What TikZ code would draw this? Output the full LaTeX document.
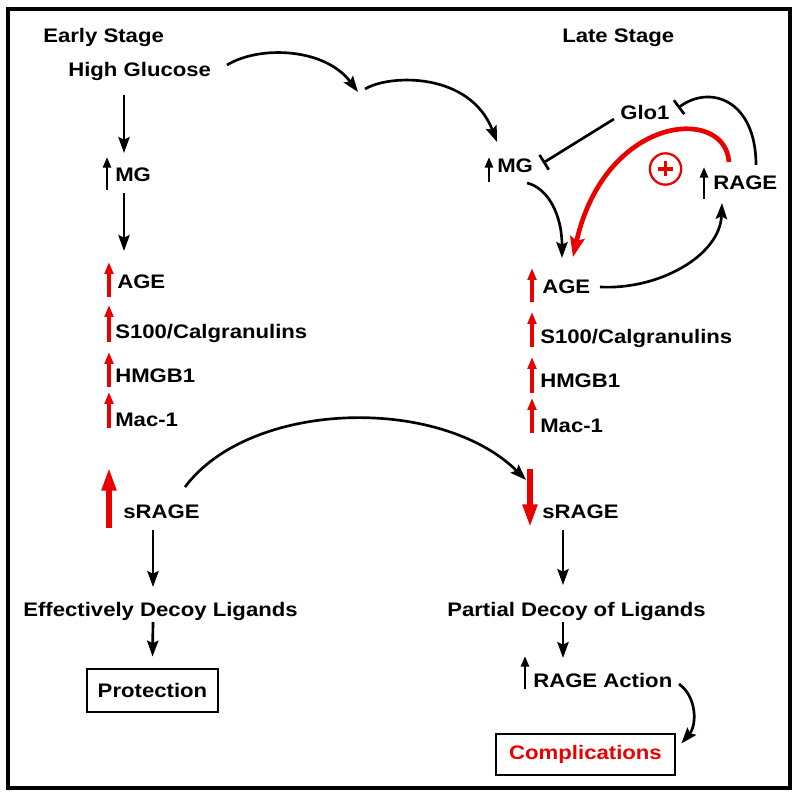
\documentclass[tikz,border=0pt]{standalone}
\usepackage{fontspec}
\setmainfont{Liberation Sans}[FakeStretch=1.13]
\usetikzlibrary{arrows.meta,calc}
\definecolor{myred}{RGB}{235,0,0}
\begin{document}
\begin{tikzpicture}[x=0.75pt,y=-0.75pt,
  lbl/.style={anchor=base west, inner sep=0pt, font=\bfseries\fontsize{14.7}{17}\selectfont},
  arr/.style={line width=2pt, -{Stealth[length=12pt,width=8.5pt,inset=2pt]}},
  inh/.style={line width=2pt, -{Bar[width=13pt,line width=2pt]}},
  upblack/.style={line width=1.9pt, -{Triangle[length=8pt,width=6pt]}},
  upred/.style={myred, line width=2.3pt, -{Triangle[length=9pt,width=6.5pt]}},
  bigred/.style={myred, line width=3.8pt, -{Triangle[length=17pt,width=10.5pt]}},
  outbox/.style={draw, line width=2.1pt, inner sep=0pt, font=\bfseries\fontsize{14.7}{17}\selectfont}]
\useasboundingbox (0,0) rectangle (800,798);
\draw[line width=2.4pt] (8,9) rectangle (790,788);

% left column
\node[lbl] (early) at (43,43) {Early Stage};
\node[lbl] (hg) at (68,77) {High Glucose};
\node[lbl] (mgL) at (115,182) {MG};
\node[lbl] (ageL) at (117,289) {AGE};
\node[lbl] (s100L) at (115,339) {S100/Calgranulins};
\node[lbl] (hmgL) at (115,383) {HMGB1};
\node[lbl] (macL) at (115,427) {Mac-1};
\node[lbl] (sragL) at (123,518) {sRAGE};
\node[lbl] (eff) at (23,616) {Effectively Decoy Ligands};
\node[outbox, minimum width=98.25pt, minimum height=32.25pt] (prot) at (152.5,690.5) {Protection};

% right column
\node[lbl] (late) at (562,43) {Late Stage};
\node[lbl] (mgR) at (497,173) {MG};
\node[lbl] (glo) at (620,120) {Glo1};
\node[lbl] (rage) at (713,190) {RAGE};
\node[lbl] (ageR) at (542,294) {AGE};
\node[lbl] (s100R) at (540,344) {S100/Calgranulins};
\node[lbl] (hmgR) at (540,388) {HMGB1};
\node[lbl] (macR) at (540,433) {Mac-1};
\node[lbl] (sragR) at (542,518) {sRAGE};
\node[lbl] (partial) at (447,616) {Partial Decoy of Ligands};
\node[lbl] (ragea) at (533,687) {RAGE Action};
\node[outbox, minimum width=134.25pt, minimum height=30.75pt, text=myred] (compl) at (585.5,754.5) {Complications};

% plus sign
\node[draw=myred, line width=1.7pt, circle, minimum size=23.5pt, inner sep=0pt] (plus) at (665.5,169) {};
\draw[myred, line width=2.6pt] ($(plus.center)+(-7.5,0)$) -- ($(plus.center)+(7.5,0)$);
\draw[myred, line width=2.6pt] ($(plus.center)+(0,-7.5)$) -- ($(plus.center)+(0,7.5)$);

% indicator arrows (left)
\draw[upblack] ($(mgL.base west)+(-8,8)$) -- ++(0,-33);
\draw[upred] ($(ageL.base west)+(-8,8)$) -- ++(0,-35);
\draw[upred] ($(s100L.base west)+(-6,3)$) -- ++(0,-37);
\draw[upred] ($(hmgL.base west)+(-6,4)$) -- ++(0,-35);
\draw[upred] ($(macL.base west)+(-6,1)$) -- ++(0,-36);
\draw[bigred] ($(sragL.base west)+(-14,10)$) -- ++(0,-60);

% indicator arrows (right)
\draw[upblack] ($(mgR.base west)+(-8,9)$) -- ++(0,-25);
\draw[upblack] ($(rage.base west)+(-9,9)$) -- ++(0,-32);
\draw[upblack] ($(ragea.base west)+(-8,2)$) -- ++(0,-33);
\draw[upred] ($(ageR.base west)+(-10,8)$) -- ++(0,-34);
\draw[upred] ($(s100R.base west)+(-8,3)$) -- ++(0,-35);
\draw[upred] ($(hmgR.base west)+(-8,5)$) -- ++(0,-36);
\draw[upred] ($(macR.base west)+(-8,0)$) -- ++(0,-35);
\draw[bigred] ($(sragR.base west)+(-12,-49)$) -- ++(0,58);

% connectors left
\draw[arr] ($(hg.base west)+(56,18)$) -- ($(mgL.base west)+(9,-29)$);
\draw[arr] ($(mgL.base west)+(9,11)$) -- ($(ageL.base west)+(7,-38)$);
\draw[arr] ($(sragL.base west)+(30,12)$) -- ($(eff.base west)+(130,-29)$);
\draw[arr] ($(eff.base west)+(130,6)$) -- ($(prot.north)+(0,-11)$);

% connectors right
\draw[arr] ($(sragR.base west)+(21,12)$) -- ($(partial.base west)+(116,-31)$);
\draw[arr] ($(partial.base west)+(116,6)$) -- ($(ragea.base west)+(30,-29)$);
\draw[arr] ($(ragea.base west)+(146,-3)$) .. controls (697,697) and (697,725) .. ($(compl.east)+(5,-11)$);

% top curves
\coordinate (midpt) at (358,92);
\draw[arr] ($(hg.base west)+(159,-12)$) .. controls (260,45) and (325,48) .. (midpt);
\draw[arr] ($(midpt)+(7,-3)$) .. controls (390,74) and (470,72) .. ($(mgR.base west)+(0,-31)$);

% inhibition
\draw[inh] ($(glo.base west)+(-6,-1)$) -- ($(mgR.base west)+(46,-10)$);
\draw[inh] ($(rage.base west)+(43,-25)$) .. controls (756,100) and (710,84) .. ($(glo.base west)+(58,-12)$);

% feedback loop
\draw[arr] ($(mgR.base west)+(30,10)$) .. controls (548,188) and (562,215) .. ($(ageR.base west)+(20,-36)$);
\draw[arr] ($(ageR.base west)+(58,-7)$) .. controls (660,290) and (720,255) .. ($(rage.base west)+(9,13)$);
\draw[myred, line width=3.5pt, -{Stealth[length=15pt,width=11pt,inset=2.5pt]}] ($(rage.base west)+(16,-28)$) .. controls (725,105) and (605,115) .. ($(ageR.base west)+(31,-37)$);

% sRAGE cross arrow
\draw[arr] ($(sragL.base west)+(62,-31)$) .. controls (250,400) and (440,395) .. ($(sragR.base west)+(-16,-38)$);
\end{tikzpicture}
\end{document}
